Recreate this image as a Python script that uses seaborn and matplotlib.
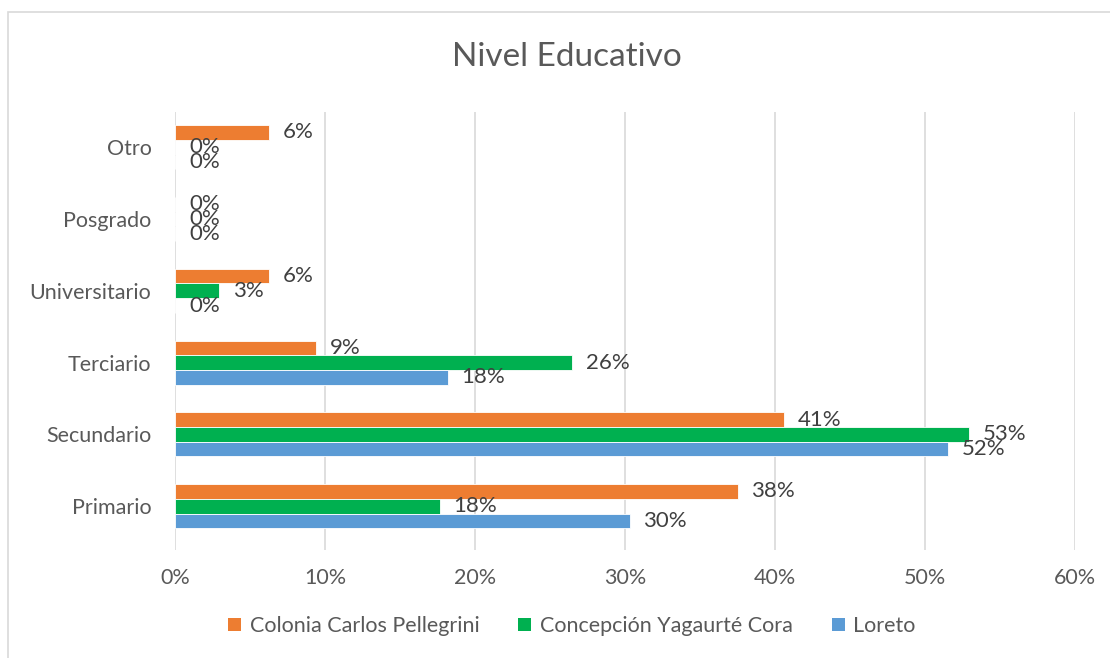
import pandas as pd
import seaborn as sns
import matplotlib

matplotlib.use("Agg")
import matplotlib.pyplot as plt
from matplotlib.patches import Patch

# data
levels = ["Otro", "Posgrado", "Universitario", "Terciario", "Secundario", "Primario"]
series = ["Colonia Carlos Pellegrini", "Concepción Yagaurté Cora", "Loreto"]
colonia = [0.0625, 0.0, 0.0625, 0.09375, 0.40625, 0.375]
concepcion = [0.0, 0.0, 0.0294, 0.2647, 0.5294, 0.1765]
loreto = [0.0, 0.0, 0.0, 0.1818, 0.5152, 0.3030]

_COLORS = ["#ED7D31", "#00B050", "#5B9BD5"]
_TEXT = "#595959"
_LABEL = "#404040"
_GRID = "#D9D9D9"
_FONT = ["Lato", "DejaVu Sans"]

df = pd.DataFrame({
    "nivel": levels * 3,
    "serie": [s for s in series for _ in levels],
    "valor": colonia + concepcion + loreto,
})

sns.set_style("white")
plt.rcParams["font.family"] = _FONT

fig = plt.figure(figsize=(11.1, 6.58), dpi=100)
ax = fig.add_axes([175 / 1110, 1 - 550 / 658, 900 / 1110, 438 / 658])

sns.barplot(
    data=df, x="valor", y="nivel", hue="serie",
    order=levels, hue_order=series, palette=_COLORS, saturation=1,
    orient="h", width=0.615, legend=False,
    edgecolor="white", linewidth=0.6, ax=ax,
)

# data labels, the overlapping 0% ones are like that in the original too
for cont in ax.containers:
    ax.bar_label(cont, labels=[f"{b.get_width():.0%}" for b in cont],
                 padding=10, fontsize=16, color=_LABEL)

ax.set_xlim(0, 0.6)
ax.set_ylim(5.61, -0.49)
ax.set_xticks([i / 10 for i in range(7)])
ax.set_xticklabels([f"{i * 10}%" for i in range(7)])
ax.grid(True, axis="x", color=_GRID, linewidth=1.2)
ax.set_axisbelow(True)
for side in ax.spines:
    ax.spines[side].set_visible(False)
ax.tick_params(axis="both", length=0, labelsize=15.5, labelcolor=_TEXT)
ax.tick_params(axis="x", pad=13)
ax.tick_params(axis="y", pad=17)
ax.set_xlabel("")
ax.set_ylabel("")

fig.text(567 / 1110, 1 - 57 / 658, "Nivel Educativo", ha="center", va="center",
         fontsize=24, color=_TEXT)

handles = [Patch(facecolor=c, edgecolor="none", label=s) for c, s in zip(_COLORS, series)]
leg = fig.legend(handles=handles, loc="center", bbox_to_anchor=(572 / 1110, 1 - 626 / 658),
                 ncol=3, frameon=False, fontsize=15.5, handlelength=0.6, handleheight=0.6,
                 handletextpad=0.4, columnspacing=1.8)
for t in leg.get_texts():
    t.set_color(_TEXT)

# chart frame
fig.patches.append(plt.Rectangle((8 / 1110, -0.01), 1.1, 1 - 12 / 658 + 0.01,
                                 transform=fig.transFigure, fill=False,
                                 edgecolor="#D9D9D9", linewidth=1.2))

fig.savefig("out.png", dpi=100, facecolor="white")
